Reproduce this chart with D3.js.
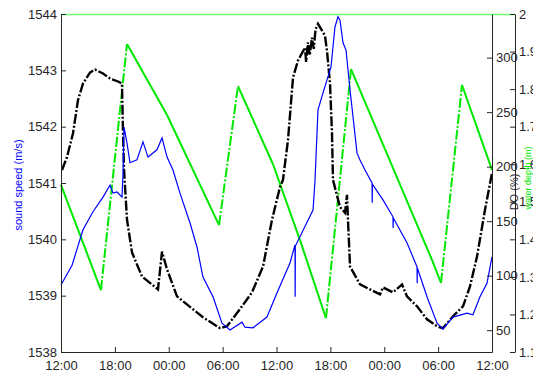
<!DOCTYPE html>
<html>
<head>
<meta charset="utf-8">
<script src="https://cdn.jsdelivr.net/npm/d3@7"></script>
<style>
  body { margin: 0; background: #fff; }
  text { font-family: "Liberation Sans", Arial, sans-serif; }
</style>
</head>
<body>
<svg id="chart" width="533" height="375"></svg>
<script>
// hours since 12:00 on day one, value
const soundSpeed = [
  [0, 1539.19], [1.23, 1539.54], [2.45, 1540.17], [3.56, 1540.49], [4.68, 1540.75],
  [5.46, 1540.96], [5.79, 1540.82], [6.24, 1540.84], [6.79, 1540.75], [6.9, 1541.14],
  [7.02, 1541.99], [7.35, 1541.71], [7.68, 1541.36], [8.46, 1541.41], [9.13, 1541.73],
  [9.69, 1541.46], [10.69, 1541.59], [11.25, 1541.8], [11.81, 1541.46], [12.47, 1541.23],
  [13.25, 1540.82], [14.37, 1540.29], [15.15, 1539.86], [15.81, 1539.33], [16.93, 1538.98],
  [17.93, 1538.51], [18.82, 1538.39], [20.16, 1538.53], [20.49, 1538.44], [21.38, 1538.43],
  [22.94, 1538.62], [24.06, 1539.05], [25.5, 1539.58], [26.06, 1539.9], [26.08, 1538.98],
  [26.1, 1539.88], [28.07, 1540.52], [28.29, 1541.05], [28.62, 1542.3], [29.18, 1542.6],
  [30.07, 1543.06], [30.51, 1543.77], [30.85, 1543.95], [31.07, 1543.89], [31.41, 1543.49],
  [31.74, 1543.36], [32.19, 1542.65], [32.97, 1541.53], [33.3, 1541.41], [33.86, 1541.23],
  [34.64, 1541.0], [34.66, 1540.65], [34.68, 1540.98], [35.86, 1540.7], [36.97, 1540.4],
  [36.99, 1540.2], [37.01, 1540.38], [38.53, 1539.94], [39.65, 1539.51], [39.67, 1539.22],
  [39.69, 1539.49], [40.76, 1538.98], [41.88, 1538.51], [42.54, 1538.41], [43.66, 1538.62],
  [45.22, 1538.69], [45.88, 1538.66], [46.66, 1538.98], [47.44, 1539.22], [48, 1539.69]
]

const dissolvedO2 = [
  [0.11, 196.9], [0.67, 208.8], [1.34, 230.7], [1.89, 260.8], [2.45, 276.3], [3.23, 286.3],
  [3.79, 289.1], [4.68, 285.4], [5.46, 280.8], [6.35, 278.1], [6.79, 276.3], [6.9, 233.4],
  [7.02, 196.9], [7.35, 151.3], [7.91, 121.2], [9.02, 99.3], [10.8, 87.4], [11.25, 122.1],
  [11.81, 105.7], [12.92, 81.0], [14.7, 69.2], [15.81, 61.9], [17.71, 51.8], [18.49, 53.6],
  [20.16, 71.9], [21.27, 84.7], [22.5, 108.4], [23.5, 151.3], [24.39, 181.4], [24.72, 187.8],
  [25.28, 224.3], [25.84, 281.8], [26.39, 297.3], [27.17, 309.1], [27.3, 296], [27.5, 314],
  [27.7, 302], [27.95, 318.2], [28.15, 308], [28.35, 326], [28.62, 331.0], [29.4, 320.1],
  [29.62, 306.4], [29.96, 276.3], [30.18, 230.7], [30.29, 187.8], [31.07, 163.1], [31.63, 157.7],
  [31.85, 174.1], [31.96, 151.3], [32.19, 108.4], [33.3, 92.0], [34.41, 87.4], [35.53, 82.8],
  [35.86, 89.2], [36.97, 84.7], [37.98, 92.0], [38.53, 81.0], [39.65, 71.9], [40.76, 60.0],
  [41.88, 53.6], [42.54, 51.8], [43.66, 62.8], [44.77, 71.9], [45.55, 90.1], [46.33, 117.5],
  [47.22, 160.4], [48, 194.2]
]

const waterDepth = [
  [0, 1.545], [4.45, 1.265], [7.35, 1.92], [11.81, 1.731], [17.6, 1.438], [19.71, 1.808],
  [23.61, 1.6], [26.62, 1.398], [29.51, 1.19], [32.3, 1.853], [41.32, 1.345], [42.32, 1.284],
  [44.66, 1.811], [48, 1.585]
]

const hourTicks = [0, 6, 12, 18, 24, 30, 36, 42, 48]
const speedTicks = [1538, 1539, 1540, 1541, 1542, 1543, 1544]
const o2Ticks = [50, 100, 150, 200, 250, 300]
const depthTicks = [1.1, 1.2, 1.3, 1.4, 1.5, 1.6, 1.7, 1.8, 1.9, 2]

const plotLeft = 61, plotRight = 492, plotTop = 14, plotBottom = 352, depthAxisX = 515
const axisColor = '#262626'
const green = '#00e800'

const svg = d3.select('#chart')

const x = d3.scaleLinear().domain([0, 48]).range([plotLeft, plotRight])
const ySpeed = d3.scaleLinear().domain([1538, 1544]).range([plotBottom, plotTop])
const yO2 = d3.scaleLinear().domain([30, 340]).range([plotBottom, plotTop])
const yDepth = d3.scaleLinear().domain([1.1, 2]).range([plotBottom, plotTop])

const hourLabel = h => String((12 + h) % 24).padStart(2, '0') + ':00'

function styleAxis(g) {
  g.select('.domain').attr('stroke', axisColor)
  g.selectAll('.tick line').attr('stroke', axisColor)
  g.selectAll('.tick text').attr('fill', axisColor).style('font-size', '13px')
}

// green axes box top
svg.append('line')
  .attr('x1', plotLeft).attr('x2', depthAxisX)
  .attr('y1', plotTop + 0.5).attr('y2', plotTop + 0.5)
  .attr('stroke', '#70ff70').attr('stroke-width', 1.5)

// water depth: rising parts dashed, falling parts solid
const lineDepth = d3.line().x(d => x(d[0])).y(d => yDepth(d[1]))
d3.pairs(waterDepth).forEach(([a, b]) => {
  svg.append('path')
    .attr('d', lineDepth([a, b]))
    .attr('fill', 'none')
    .attr('stroke', green)
    .attr('stroke-width', 2)
    .attr('stroke-dasharray', b[1] > a[1] ? '10,2,2,2' : null)
})

svg.append('path')
  .datum(dissolvedO2)
  .attr('fill', 'none')
  .attr('stroke', '#000')
  .attr('stroke-width', 2.4)
  .attr('stroke-dasharray', '10,2,2,2')
  .attr('d', d3.line().x(d => x(d[0])).y(d => yO2(d[1])))

svg.append('path')
  .datum(soundSpeed)
  .attr('fill', 'none')
  .attr('stroke', '#0000ff')
  .attr('stroke-width', 1.2)
  .attr('d', d3.line().x(d => x(d[0])).y(d => ySpeed(d[1])))

// axes
svg.append('g')
  .attr('transform', `translate(0,${plotBottom})`)
  .call(d3.axisBottom(x).tickValues(hourTicks).tickFormat(hourLabel).tickSize(-5).tickPadding(9).tickSizeOuter(0))
  .call(styleAxis)

svg.append('g')
  .attr('transform', `translate(${plotLeft},0)`)
  .call(d3.axisLeft(ySpeed).tickValues(speedTicks).tickFormat(d3.format('d')).tickSize(-5).tickPadding(4).tickSizeOuter(0))
  .call(styleAxis)

svg.append('g')
  .attr('transform', `translate(${plotRight},0)`)
  .call(d3.axisRight(yO2).tickValues(o2Ticks).tickSize(-5).tickPadding(4).tickSizeOuter(0))
  .call(styleAxis)

svg.append('g')
  .attr('transform', `translate(${depthAxisX},0)`)
  .call(d3.axisRight(yDepth).tickValues(depthTicks).tickFormat(d => d3.format('.1~f')(d)).tickSize(-5).tickPadding(4).tickSizeOuter(0))
  .call(styleAxis)

// axis titles
svg.append('text')
  .attr('transform', `translate(22,185) rotate(-90)`)
  .attr('text-anchor', 'middle')
  .attr('fill', '#0000ff')
  .style('font-size', '11px')
  .text('sound speed (m/s)')

svg.append('text')
  .attr('transform', `translate(518,192) rotate(-90)`)
  .attr('text-anchor', 'middle')
  .attr('fill', axisColor)
  .style('font-size', '11px')
  .text('DO (%)')

svg.append('text')
  .attr('transform', `translate(531,178) rotate(-90)`)
  .attr('text-anchor', 'middle')
  .attr('fill', green)
  .style('font-size', '9px')
  .text('water depth (m)')
</script>
</body>
</html>
